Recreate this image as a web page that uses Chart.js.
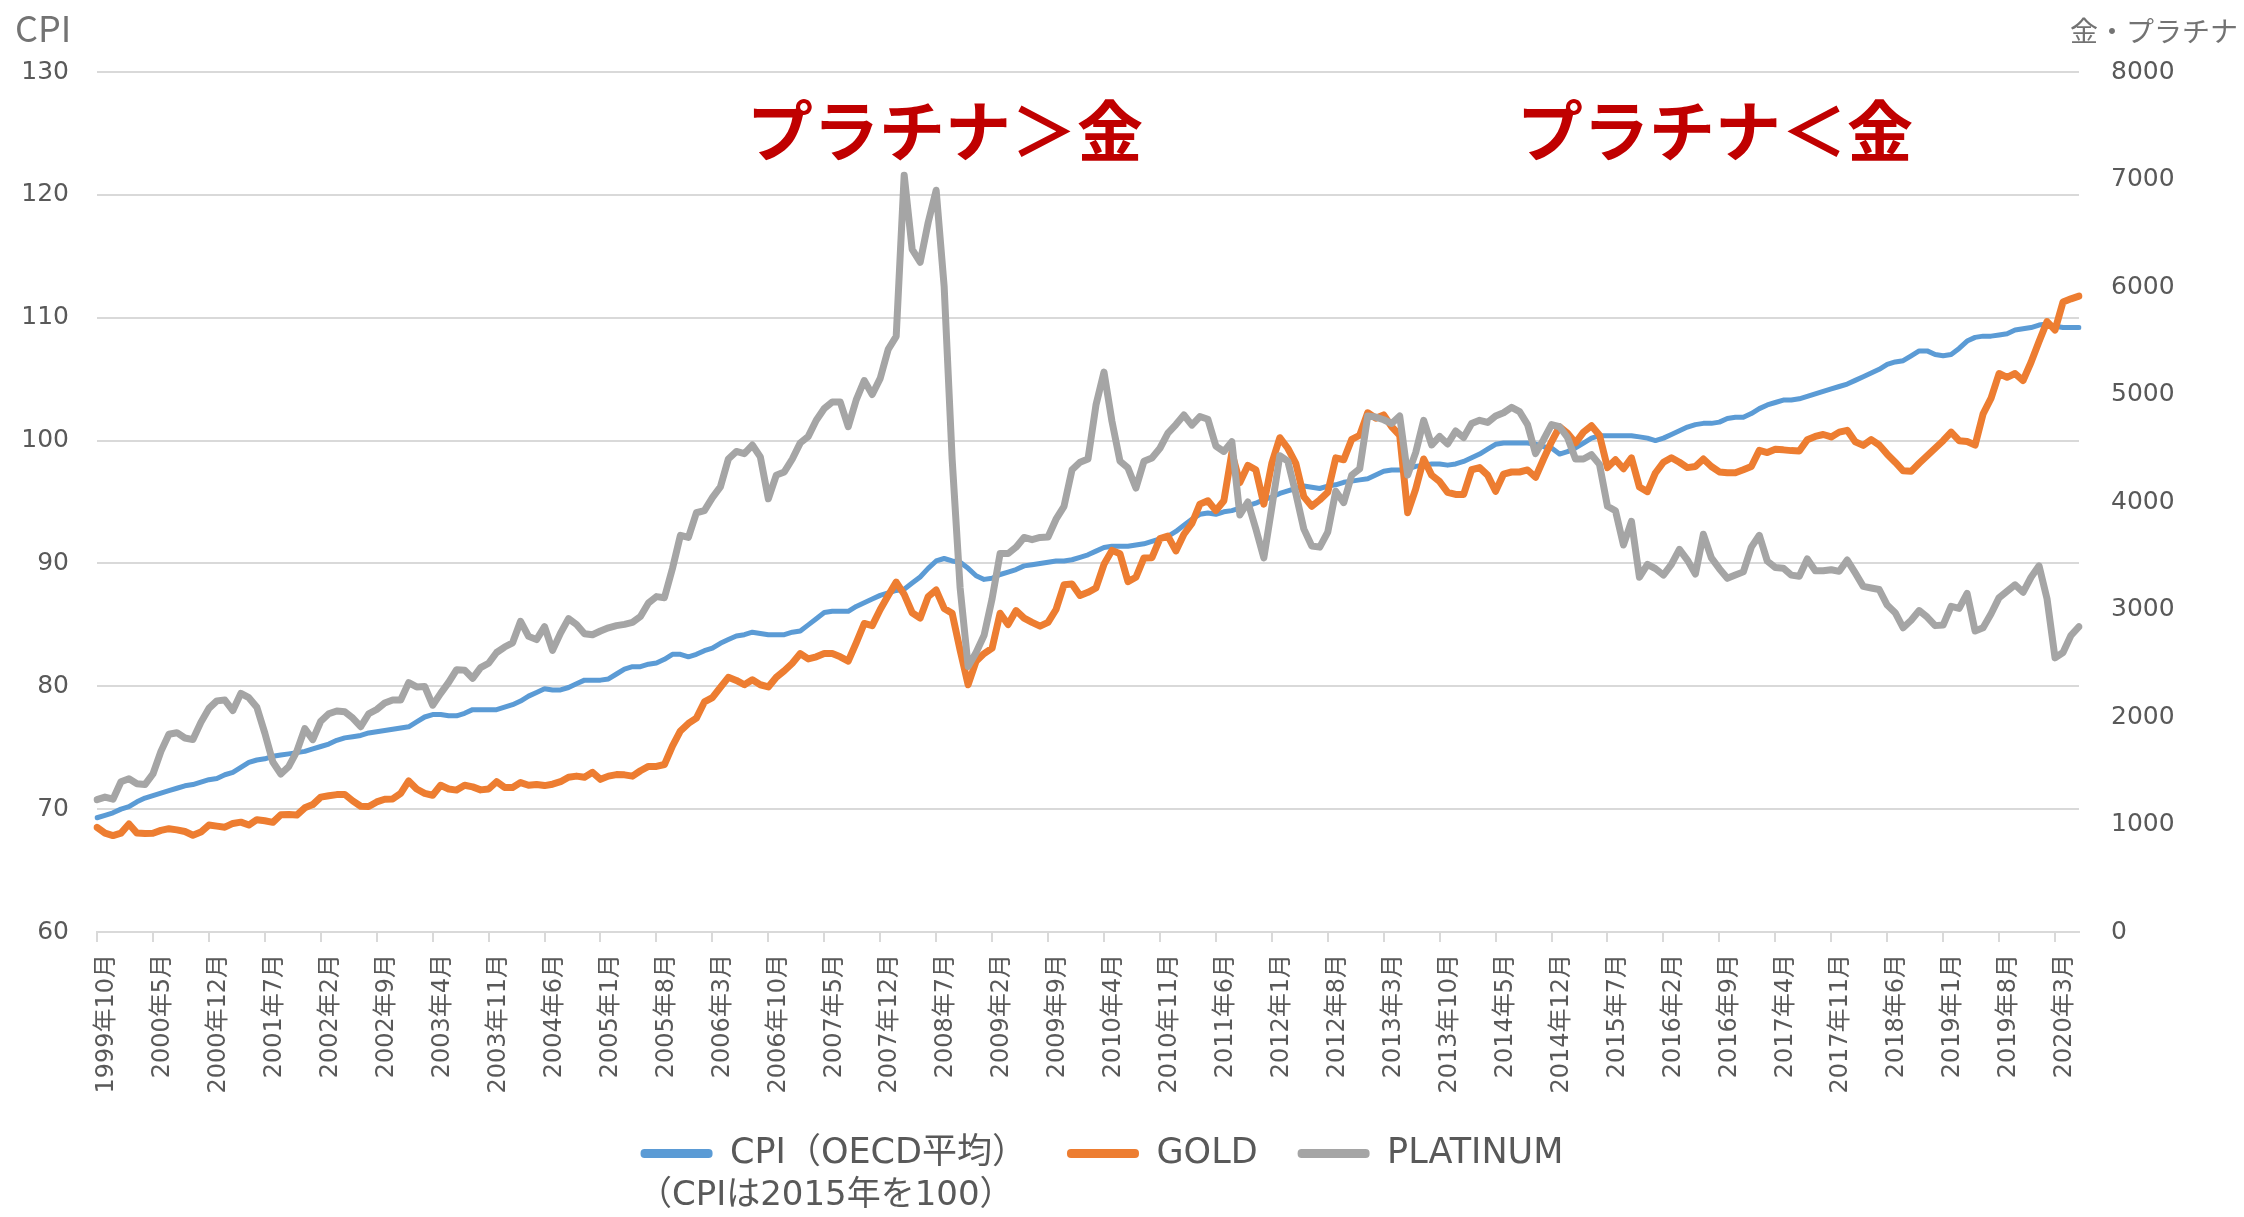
<!DOCTYPE html>
<html>
<head>
<meta charset="utf-8">
<script src="https://cdn.jsdelivr.net/npm/chart.js@4.4.0/dist/chart.umd.min.js"></script>
<style>
html,body{margin:0;padding:0;background:#ffffff;}
#wrap{width:2244px;height:1217px;position:relative;}
</style>
</head>
<body>
<div id="wrap"><canvas id="c" width="2244" height="1217"></canvas></div>
<script>
// ---- categories: monthly, 1999年10月 .. 2020年6月 ----
const startYear = 1999, startMonth = 10, monthCount = 249;
const months = [];
for (let k = 0; k < monthCount; k++) {
  const t = startMonth - 1 + k;
  months.push((startYear + Math.floor(t / 12)) + '年' + (t % 12 + 1) + '月');
}
const labelEvery = 7;

// ---- series ----
const cpi = [
69.3,69.5,69.7,70.0,70.2,70.6,70.9,71.1,71.3,71.5,
71.7,71.9,72.0,72.2,72.4,72.5,72.8,73.0,73.4,73.8,
74.0,74.1,74.3,74.4,74.5,74.6,74.7,74.9,75.1,75.3,
75.6,75.8,75.9,76.0,76.2,76.3,76.4,76.5,76.6,76.7,
77.1,77.5,77.7,77.7,77.6,77.6,77.8,78.1,78.1,78.1,
78.1,78.3,78.5,78.8,79.2,79.5,79.8,79.7,79.7,79.9,
80.2,80.5,80.5,80.5,80.6,81.0,81.4,81.6,81.6,81.8,
81.9,82.2,82.6,82.6,82.4,82.6,82.9,83.1,83.5,83.8,
84.1,84.2,84.4,84.3,84.2,84.2,84.2,84.4,84.5,85.0,
85.5,86.0,86.1,86.1,86.1,86.5,86.8,87.1,87.4,87.6,
87.8,87.9,88.4,88.9,89.6,90.2,90.4,90.2,90.1,89.6,
89.0,88.7,88.8,89.1,89.3,89.5,89.8,89.9,90.0,90.1,
90.2,90.2,90.3,90.5,90.7,91.0,91.3,91.4,91.4,91.4,
91.5,91.6,91.8,92.0,92.2,92.6,93.1,93.6,94.0,94.1,
94.0,94.2,94.3,94.5,94.7,94.9,95.2,95.4,95.7,95.9,
96.1,96.3,96.2,96.1,96.3,96.4,96.6,96.7,96.8,96.9,
97.2,97.5,97.6,97.6,97.7,97.9,98.0,98.1,98.1,98.0,
98.1,98.3,98.6,98.9,99.3,99.7,99.8,99.8,99.8,99.8,
99.7,99.5,99.4,98.9,99.1,99.4,99.8,100.2,100.4,100.4,
100.4,100.4,100.4,100.3,100.2,100.0,100.2,100.5,100.8,101.1,
101.3,101.4,101.4,101.5,101.8,101.9,101.9,102.2,102.6,102.9,
103.1,103.3,103.3,103.4,103.6,103.8,104.0,104.2,104.4,104.6,
104.9,105.2,105.5,105.8,106.2,106.4,106.5,106.9,107.3,107.3,
107.0,106.9,107.0,107.5,108.1,108.4,108.5,108.5,108.6,108.7,
109.0,109.1,109.2,109.4,109.5,109.3,109.2,109.2,109.2
];
const gold = [
973,920,897,920,1005,920,916,918,945,961,
950,935,900,930,995,985,975,1010,1022,995,
1045,1035,1020,1090,1092,1088,1155,1185,1255,1268,
1278,1280,1220,1170,1168,1210,1235,1238,1290,1405,
1330,1290,1272,1365,1330,1320,1365,1350,1322,1330,
1398,1345,1345,1390,1365,1372,1362,1375,1398,1440,
1450,1440,1485,1420,1450,1464,1462,1450,1500,1540,
1540,1558,1730,1870,1940,1990,2140,2180,2276,2369,
2340,2300,2346,2300,2280,2370,2430,2500,2590,2540,
2560,2590,2590,2560,2520,2690,2870,2850,3000,3130,
3255,3140,2970,2920,3120,3181,3010,2965,2620,2300,
2520,2590,2640,2965,2860,2990,2920,2880,2845,2880,
3000,3230,3237,3130,3160,3200,3420,3550,3519,3260,
3300,3480,3482,3660,3683,3545,3700,3800,3980,4012,
3920,4012,4457,4180,4340,4300,3980,4360,4598,4500,
4360,4050,3960,4020,4090,4410,4393,4583,4621,4830,
4780,4810,4700,4621,3900,4120,4400,4250,4190,4090,
4070,4070,4300,4320,4250,4100,4260,4279,4279,4298,
4230,4400,4560,4700,4640,4550,4650,4710,4621,4320,
4393,4309,4410,4140,4096,4270,4370,4412,4370,4320,
4330,4400,4330,4280,4272,4272,4300,4330,4480,4460,
4490,4485,4478,4474,4580,4610,4628,4605,4650,4667,
4560,4527,4580,4530,4445,4370,4290,4285,4360,4430,
4500,4570,4650,4570,4562,4530,4820,4966,5195,5160,
5195,5130,5300,5494,5678,5600,5860,5890,5915
];
const platinum = [
1231,1255,1235,1398,1425,1380,1372,1470,1680,1840,
1854,1805,1790,1950,2080,2150,2158,2060,2220,2180,
2090,1850,1581,1470,1540,1680,1892,1790,1961,2030,
2056,2048,1990,1910,2030,2070,2130,2158,2158,2320,
2280,2284,2110,2220,2322,2440,2436,2360,2460,2500,
2600,2651,2690,2890,2750,2720,2840,2620,2780,2915,
2860,2775,2765,2800,2830,2850,2862,2880,2935,3060,
3120,3110,3380,3690,3670,3900,3920,4040,4140,4400,
4470,4450,4530,4420,4030,4250,4280,4400,4550,4610,
4760,4870,4930,4930,4700,4950,5130,5000,5150,5420,
5540,7040,6350,6230,6600,6900,6006,4400,3200,2470,
2600,2760,3100,3520,3520,3580,3670,3650,3670,3674,
3840,3960,4300,4370,4400,4903,5208,4750,4380,4317,
4130,4380,4410,4500,4640,4720,4809,4715,4795,4770,
4520,4470,4560,3880,4000,3750,3480,3950,4430,4380,
4080,3750,3590,3580,3720,4100,3994,4250,4310,4800,
4790,4765,4730,4800,4250,4460,4760,4530,4610,4540,
4660,4600,4730,4760,4740,4800,4830,4880,4840,4720,
4450,4580,4720,4700,4600,4400,4400,4440,4350,3960,
3918,3600,3820,3300,3420,3380,3320,3420,3560,3460,
3330,3700,3480,3380,3290,3320,3350,3580,3690,3450,
3390,3384,3320,3310,3470,3360,3360,3370,3355,3460,
3340,3215,3200,3186,3041,2970,2830,2900,2990,2930,
2850,2855,3030,3010,3150,2800,2830,2960,3110,3170,
3230,3160,3300,3406,3100,2550,2600,2760,2840
];

// ---- axes ----
const leftAxis = { min: 60, max: 130, step: 10, title: 'CPI' };
const rightAxis = { min: 0, max: 8000, step: 1000, title: '金・プラチナ' };

// ---- texts ----
const seriesNames = ['CPI（OECD平均）', 'GOLD', 'PLATINUM'];
const cpiNote = '（CPIは2015年を100）';
const notes = ['プラチナ＞金', 'プラチナ＜金'];

const colors = { cpi: '#5b9bd5', gold: '#ed7d31', platinum: '#a5a5a5', grid: '#d9d9d9', text: '#595959', title: '#737373', note: '#c00000' };
const tickFont = '"DejaVu Sans", "Noto Sans CJK JP", sans-serif';
const cjkFont = '"Noto Sans CJK JP", "DejaVu Sans", sans-serif';

const overlay = {
  id: 'overlay',
  afterDraw(chart) {
    const ctx = chart.ctx;
    ctx.save();
    ctx.textBaseline = 'middle';
    ctx.fillStyle = colors.title;
    ctx.textAlign = 'left';
    ctx.font = '36px ' + cjkFont;
    ctx.fillText(leftAxis.title, 15, 28);
    ctx.textAlign = 'right';
    ctx.font = '28px ' + cjkFont;
    ctx.fillText(rightAxis.title, 2238, 31);

    ctx.fillStyle = colors.note;
    ctx.textAlign = 'left';
    ctx.font = 'bold 66px ' + cjkFont;
    ctx.fillText(notes[0], 747, 131);
    ctx.fillText(notes[1], 1517, 131);

    const lg = chart.legend;
    if (lg && lg.legendHitBoxes && lg.legendHitBoxes.length) {
      const hb = lg.legendHitBoxes[0];
      ctx.fillStyle = colors.text;
      ctx.textAlign = 'center';
      ctx.font = '34px ' + tickFont;
      ctx.fillText(cpiNote, hb.left + hb.width / 2 - 8, 1196);
    }
    ctx.restore();
  }
};

new Chart(document.getElementById('c'), {
  type: 'line',
  data: {
    labels: months,
    datasets: [
      { label: seriesNames[0], data: cpi, yAxisID: 'y', borderColor: colors.cpi, backgroundColor: colors.cpi, borderWidth: 5, order: 2 },
      { label: seriesNames[1], data: gold, yAxisID: 'y1', borderColor: colors.gold, backgroundColor: colors.gold, borderWidth: 7, order: 1 },
      { label: seriesNames[2], data: platinum, yAxisID: 'y1', borderColor: colors.platinum, backgroundColor: colors.platinum, borderWidth: 7, order: 0 }
    ]
  },
  options: {
    responsive: false,
    animation: false,
    devicePixelRatio: 1,
    events: [],
    layout: { padding: { top: 72, left: 0, right: 40, bottom: 36 } },
    elements: {
      point: { radius: 0, hoverRadius: 0 },
      line: { tension: 0, borderJoinStyle: 'round', borderCapStyle: 'round' }
    },
    scales: {
      x: {
        offset: false,
        grid: {
          display: true,
          drawOnChartArea: false,
          drawTicks: true,
          tickLength: 10,
          lineWidth: 2,
          tickWidth: 2,
          color: colors.grid,
          tickColor: (c) => (c.index % labelEvery === 0 ? colors.grid : 'rgba(0,0,0,0)')
        },
        border: { display: true, color: colors.grid, width: 2 },
        ticks: {
          autoSkip: false,
          maxRotation: 90,
          minRotation: 90,
          padding: 12,
          labelOffset: 10,
          color: colors.text,
          font: { family: tickFont, size: 24 },
          callback: function (v, i) { return i % labelEvery === 0 ? months[i] : ''; }
        },
        afterFit: (s) => { s.height = 164; }
      },
      y: {
        position: 'left',
        min: leftAxis.min, max: leftAxis.max,
        grid: { color: colors.grid, lineWidth: 2, drawTicks: false },
        border: { display: false },
        ticks: { stepSize: leftAxis.step, padding: 28, color: colors.text, font: { family: tickFont, size: 25 },
                 callback: (v) => String(v) },
        afterFit: (s) => { s.width = 97; }
      },
      y1: {
        position: 'right',
        min: rightAxis.min, max: rightAxis.max,
        grid: { display: false, drawOnChartArea: false, drawTicks: false },
        border: { display: false },
        ticks: { stepSize: rightAxis.step, padding: 32, color: colors.text, font: { family: tickFont, size: 25 },
                 callback: (v) => String(v) },
        afterFit: (s) => { s.width = 125; }
      }
    },
    plugins: {
      tooltip: { enabled: false },
      legend: {
        position: 'bottom',
        align: 'center',
        labels: {
          boxWidth: 72,
          boxHeight: 9,
          padding: 40,
          color: colors.text,
          font: { family: tickFont, size: 35 },
          useBorderRadius: true,
          borderRadius: 4,
          generateLabels: (chart) => chart.data.datasets.map((ds, i) => ({
            text: ds.label, fillStyle: ds.borderColor, strokeStyle: ds.borderColor,
            lineWidth: 0, hidden: false, datasetIndex: i, fontColor: colors.text, borderRadius: 4
          }))
        }
      }
    }
  },
  plugins: [overlay]
});
</script>
</body>
</html>
